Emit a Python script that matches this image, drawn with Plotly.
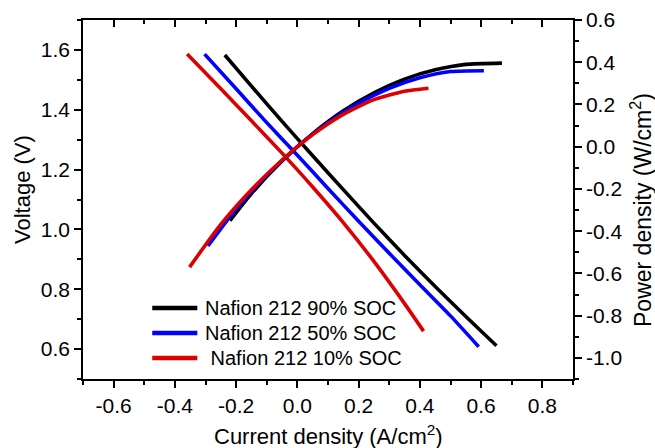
import plotly.graph_objects as go

# ---------------- data ----------------
series_names = ["Nafion 212 90% SOC", "Nafion 212 50% SOC", " Nafion 212 10% SOC"]
series_colors = ["#000000", "#0000FF", "#DD0000"]

# Voltage curves (left axis)
current_v_90 = [-0.237, -0.15, -0.05, 0.05, 0.15, 0.25, 0.35, 0.45, 0.55, 0.65]
voltage_90 = [1.583, 1.479, 1.361, 1.246, 1.133, 1.021, 0.913, 0.809, 0.709, 0.611]

current_v_50 = [-0.303, -0.2, -0.1, 0.0, 0.1, 0.2, 0.3, 0.4, 0.5, 0.592]
voltage_50 = [1.586, 1.470, 1.357, 1.248, 1.137, 1.027, 0.920, 0.815, 0.711, 0.608]

current_v_10 = [-0.36, -0.25, -0.15, -0.05, 0.05, 0.15, 0.25, 0.35, 0.412]
voltage_10 = [1.586, 1.47, 1.363, 1.255, 1.142, 1.023, 0.893, 0.752, 0.66]

# Power-density curves (right axis)
current_p_90 = [-0.22, -0.15, -0.05, 0.05, 0.15, 0.25, 0.35, 0.45, 0.55, 0.668]
power_90 = [-0.35, -0.222, -0.068, 0.062, 0.170, 0.255, 0.320, 0.364, 0.390, 0.396]

current_p_50 = [-0.292, -0.2, -0.1, 0.0, 0.1, 0.2, 0.3, 0.4, 0.5, 0.609]
power_50 = [-0.47, -0.294, -0.136, 0.0, 0.114, 0.205, 0.276, 0.326, 0.356, 0.360]

current_p_10 = [-0.352, -0.25, -0.15, -0.05, 0.05, 0.15, 0.25, 0.35, 0.428]
power_10 = [-0.57, -0.368, -0.204, -0.063, 0.057, 0.153, 0.223, 0.263, 0.277]

x_tickvals = [-0.6, -0.4, -0.2, 0.0, 0.2, 0.4, 0.6, 0.8]
x_ticktext = ["-0.6", "-0.4", "-0.2", "0.0", "0.2", "0.4", "0.6", "0.8"]
yl_tickvals = [0.6, 0.8, 1.0, 1.2, 1.4, 1.6]
yl_ticktext = ["0.6", "0.8", "1.0", "1.2", "1.4", "1.6"]
yr_tickvals = [-1.0, -0.8, -0.6, -0.4, -0.2, 0.0, 0.2, 0.4, 0.6]
yr_ticktext = ["-1.0", "-0.8", "-0.6", "-0.4", "-0.2", "0.0", "0.2", "0.4", "0.6"]

x_range = [-0.7, 0.9]
yl_range = [0.5, 1.7]
yr_range = [-1.1, 0.6]

x_title = "Current density (A/cm<sup>2</sup>)"
yl_title = "Voltage (V)"
yr_title = "Power density (W/cm<sup>2</sup>)"

# ---------------- figure ----------------
FONT = "Liberation Sans, Arial, sans-serif"
LW = 3.6

fig = go.Figure()
volt = [(current_v_90, voltage_90), (current_v_50, voltage_50), (current_v_10, voltage_10)]
powr = [(current_p_90, power_90), (current_p_50, power_50), (current_p_10, power_10)]

for (cx, vy), name, col in zip(volt, series_names, series_colors):
    fig.add_trace(go.Scatter(x=cx, y=vy, mode="lines", name=name, showlegend=False,
                             line=dict(color=col, width=LW, shape="spline", smoothing=0.6),
                             xaxis="x", yaxis="y"))
for (cx, py), name, col in zip(powr, series_names, series_colors):
    fig.add_trace(go.Scatter(x=cx, y=py, mode="lines", name=name, showlegend=False,
                             line=dict(color=col, width=LW, shape="spline", smoothing=0.6),
                             xaxis="x2", yaxis="y2"))

axis_common = dict(showline=True, linecolor="black", linewidth=1.5, showgrid=False,
                   zeroline=False, tickcolor="black", tickwidth=1.5, ticklen=7,
                   automargin=False,
                   tickfont=dict(family=FONT, size=21, color="black"))
minor_out = dict(tickmode="linear", dtick=0.1, ticks="outside", ticklen=4,
                 tickcolor="black", tickwidth=1.5)

fig.update_layout(
    width=655, height=448,
    margin=dict(l=83, r=82, t=20, b=69),
    paper_bgcolor="white", plot_bgcolor="white",
    showlegend=False,
    xaxis=dict(range=x_range, tickmode="array", tickvals=x_tickvals, ticktext=x_ticktext,
               ticks="outside", side="bottom", anchor="y",
               minor=dict(tick0=-0.7, **minor_out), **axis_common),
    yaxis=dict(range=yl_range, tickmode="array", tickvals=yl_tickvals, ticktext=yl_ticktext,
               ticks="outside", side="left", anchor="x",
               minor=dict(tick0=0.5, **minor_out), **axis_common),
    xaxis2=dict(range=x_range, overlaying="x", side="top", anchor="y2",
                tickmode="array", tickvals=x_tickvals, ticks="inside", showticklabels=False,
                minor=dict(tickmode="linear", tick0=-0.7, dtick=0.1, ticks="inside",
                           ticklen=4, tickcolor="black", tickwidth=1.5),
                **axis_common),
    yaxis2=dict(range=yr_range, overlaying="y", side="right", anchor="x2",
                tickmode="array", tickvals=yr_tickvals, ticktext=yr_ticktext,
                ticks="outside", minor=dict(tick0=-1.1, **minor_out), **axis_common),
)

title_font = dict(family=FONT, size=22, color="black")
fig.add_annotation(xref="paper", yref="paper", x=0.5, y=-0.155, text=x_title,
                   showarrow=False, xanchor="center", yanchor="middle", font=title_font)
fig.add_annotation(xref="paper", yref="paper", x=-0.1224, y=0.5265, text=yl_title,
                   showarrow=False, xanchor="center", yanchor="middle", textangle=-90,
                   font=title_font)
fig.add_annotation(xref="paper", yref="paper", x=1.1388, y=0.4708, text=yr_title,
                   showarrow=False, xanchor="center", yanchor="middle", textangle=-90,
                   font=dict(family=FONT, size=23, color="black"))

# manual legend (inside lower-left of plot)
leg_x0, leg_x1, leg_tx = 0.1413, 0.2333, 0.2454
leg_rows = [0.1978, 0.1281, 0.0585]
for name, col, yy in zip(series_names, series_colors, leg_rows):
    fig.add_shape(type="line", xref="paper", yref="paper", x0=leg_x0, x1=leg_x1, y0=yy, y1=yy,
                  line=dict(color=col, width=4.5))
    label = name.replace(" ", "&nbsp;", 1) if name.startswith(" ") else name
    fig.add_annotation(xref="paper", yref="paper", x=leg_tx, y=yy, text=label,
                       showarrow=False, xanchor="left", yanchor="middle",
                       font=dict(family=FONT, size=20, color="black"))

fig.write_html("out.html", config={"displayModeBar": False},
               post_script="document.body.style.margin='0';document.body.style.overflow='hidden';")
